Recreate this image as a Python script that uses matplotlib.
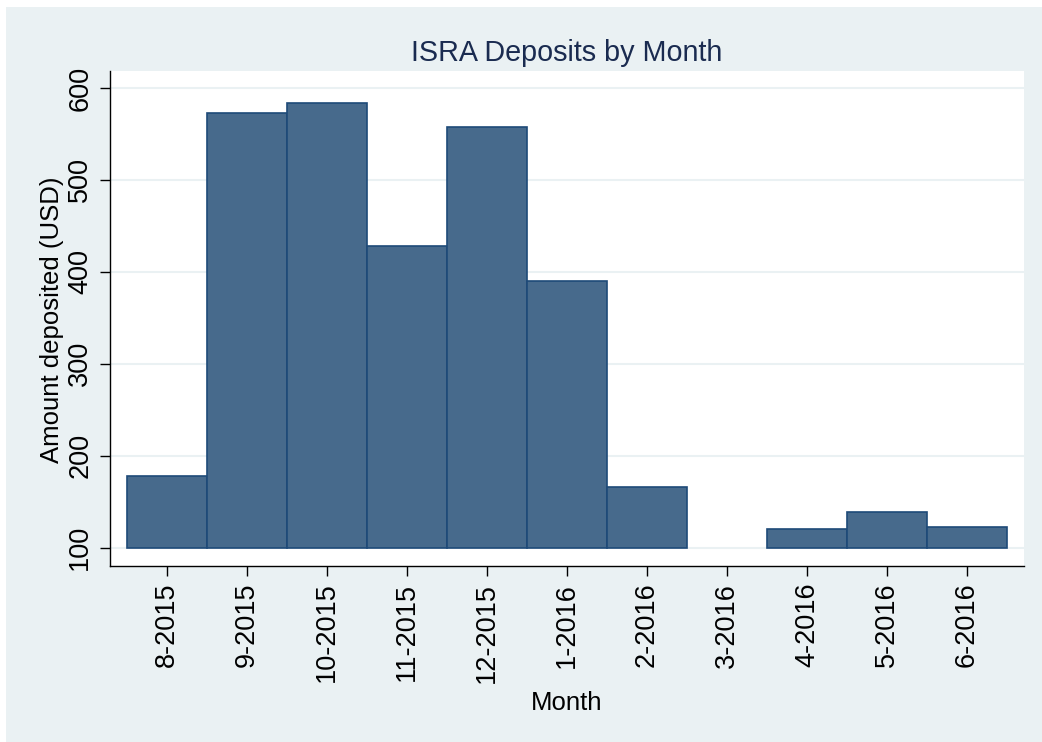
import numpy as np
import matplotlib
matplotlib.use("Agg")
import matplotlib.pyplot as plt
from matplotlib.patches import Rectangle

plt.rcParams['font.family'] = ['Liberation Sans', 'DejaVu Sans']

months = ["8-2015", "9-2015", "10-2015", "11-2015", "12-2015", "1-2016",
          "2-2016", "3-2016", "4-2016", "5-2016", "6-2016"]
deposits = [178, 573, 584, 428, 558, 390, 166, np.nan, 120, 139, 122]
yticks = [100, 200, 300, 400, 500, 600]
base = 100

fig = plt.figure(figsize=(10.42, 7.42), dpi=100, facecolor='white')
bg = Rectangle((6/1042, 0), 1 - 6/1042, (742 - 7)/742, transform=fig.transFigure,
               facecolor='#EAF1F3', edgecolor='none', zorder=-10)
fig.add_artist(bg)

ax = fig.add_axes([110/1042, (742-566)/742, (1024-110)/1042, (566-71)/742])
ax.set_zorder(1)
ax.set_facecolor('white')

x = np.arange(len(months))
vals = np.array(deposits, dtype=float)
mask = ~np.isnan(vals)
ax.bar(x[mask], vals[mask] - base, bottom=base, width=1.0,
       color='#476A8C', edgecolor='#1E4A78', linewidth=1.2, zorder=3)

ax.set_xlim(-0.7125, len(months) - 1 + 0.7125)
ax.set_ylim(80, 618.5)

ax.set_yticks(yticks)
ax.set_yticklabels([str(t) for t in yticks], rotation=90, va='center')
ax.set_xticks(x)
ax.set_xticklabels(months, rotation=90)

ax.yaxis.grid(True, color='#EAF1F3', linewidth=1.5, zorder=1)
ax.set_axisbelow(True)

for s in ['top', 'right']:
    ax.spines[s].set_visible(False)
for s in ['left', 'bottom']:
    ax.spines[s].set_color('black')
    ax.spines[s].set_linewidth(1.0)

ax.tick_params(axis='both', length=7, width=1.0, color='black', labelsize=19.5, pad=5)

ax.set_title('ISRA Deposits by Month', fontsize=20.7, color='#1A2B50', pad=7.4)
ax.set_xlabel('Month', fontsize=18.5)
ax.xaxis.set_label_coords(0.5, (566 - 691) / 495)
ax.set_ylabel('Amount deposited (USD)', fontsize=18.5)
ax.yaxis.set_label_coords((64.0 - 110) / 914, 0.498)

fig.savefig('out.png', dpi=100, facecolor=fig.get_facecolor())
